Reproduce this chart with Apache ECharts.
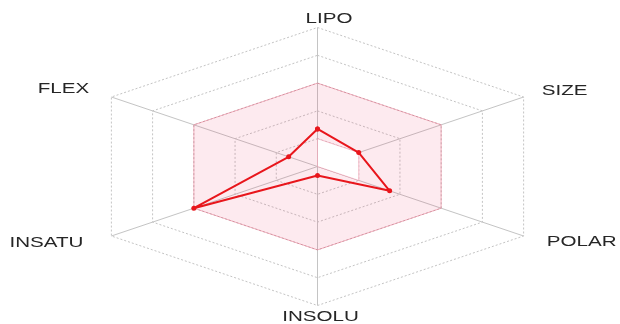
<!DOCTYPE html>
<html>
<head>
<meta charset="utf-8">
<script src="https://cdn.jsdelivr.net/npm/echarts@6/dist/echarts.min.js"></script>
<style>
  html, body { margin: 0; padding: 0; background: #ffffff; }
  #chart { width: 620px; height: 324px; }
</style>
</head>
<body>
<div id="chart"></div>
<script>
// Bioavailability radar: six physicochemical properties, normalised to 0..1
const indicators = ['LIPO', 'SIZE', 'POLAR', 'INSOLU', 'INSATU', 'FLEX'];
const compoundValues = [0.27, 0.2, 0.35, 0.065, 0.6, 0.14];
const optimalUpper = [0.6, 0.6, 0.6, 0.6, 0.6, 0.6];
const optimalLower = [0.2, 0.2, 0.2, 0, 0, 0];
const ringLevels = [0.2, 0.4, 0.6, 0.8, 1.0];

// layout: where each axis name sits relative to its axis end (px)
const nameOffsets = [[11.5, -8], [41, -6], [58, 6.5], [3, 12], [-65, 7], [-48, -8]];
const NAME_STRETCH = 1.47;

// polar -> cartesian in axis units, first axis pointing up, clockwise
function toXY(r, i) {
  const a = (90 - 60 * i) * Math.PI / 180;
  return [r * Math.cos(a), r * Math.sin(a)];
}
function ring(values) {
  return values.map((r, i) => toXY(r, i));
}

const chart = echarts.init(document.getElementById('chart'));

const gridColor = '#c4c4c4';

const option = {
  animation: false,
  backgroundColor: '#ffffff',
  grid: { left: 79.5, top: 27.5, width: 476, height: 278 },
  xAxis: { type: 'value', min: -1, max: 1, show: false },
  yAxis: { type: 'value', min: -1, max: 1, show: false },
  series: [
    {
      // concentric dotted hexagons
      type: 'custom',
      silent: true,
      z: 1,
      data: ringLevels.map(v => [v]),
      renderItem: function (params, api) {
        const lvl = ringLevels[params.dataIndex];
        const pts = ring(indicators.map(() => lvl)).map(p => api.coord(p));
        pts.push(pts[0]);
        return {
          type: 'polyline',
          shape: { points: pts },
          style: { stroke: gridColor, fill: null, lineWidth: 1, lineDash: [2, 2] }
        };
      }
    },
    {
      // axis spokes
      type: 'custom',
      silent: true,
      z: 1,
      data: indicators.map((n, i) => [i]),
      renderItem: function (params, api) {
        const c = api.coord([0, 0]);
        const e = api.coord(toXY(1, params.dataIndex));
        return {
          type: 'line',
          shape: { x1: c[0], y1: c[1], x2: e[0], y2: e[1] },
          style: { stroke: gridColor, lineWidth: 1 }
        };
      }
    },
    {
      // optimal property range (band between lower and upper limits)
      type: 'custom',
      silent: true,
      z: 2,
      data: [[0]],
      renderItem: function (params, api) {
        const outer = ring(optimalUpper).map(p => api.coord(p));
        const inner = ring(optimalLower).map(p => api.coord(p));
        return {
          type: 'group',
          children: [
            {
              type: 'polygon',
              shape: { points: outer },
              style: { fill: 'rgba(240, 60, 110, 0.11)', stroke: 'rgba(230, 90, 120, 0.45)', lineWidth: 1 }
            },
            {
              type: 'polygon',
              shape: { points: inner },
              style: { fill: '#ffffff', stroke: 'rgba(230, 90, 120, 0.35)', lineWidth: 1 }
            }
          ]
        };
      }
    },
    {
      // compound profile
      type: 'line',
      z: 3,
      data: ring(compoundValues).concat([toXY(compoundValues[0], 0)]),
      symbol: 'circle',
      symbolSize: 5,
      itemStyle: { color: '#e8161c' },
      lineStyle: { color: '#e8161c', width: 2 }
    },
    {
      // axis names
      type: 'custom',
      silent: true,
      z: 4,
      data: indicators.map((n, i) => [i]),
      renderItem: function (params, api) {
        const i = params.dataIndex;
        const e = api.coord(toXY(1, i));
        return {
          type: 'text',
          x: e[0] + nameOffsets[i][0],
          y: e[1] + nameOffsets[i][1],
          scaleX: NAME_STRETCH,
          style: {
            text: indicators[i],
            fill: '#262626',
            font: '14px "Liberation Sans", Arial, sans-serif',
            align: 'center',
            verticalAlign: 'middle'
          }
        };
      }
    }
  ]
};

chart.setOption(option);
</script>
</body>
</html>
